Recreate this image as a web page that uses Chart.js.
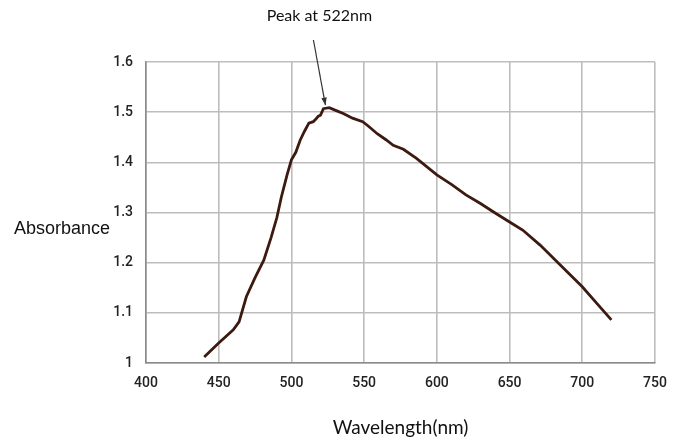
<!DOCTYPE html>
<html>
<head>
<meta charset="utf-8">
<script src="https://cdn.jsdelivr.net/npm/chart.js@4"></script>
<style>
  html, body { margin: 0; padding: 0; background: #fff; }
  #wrap { width: 680px; height: 443px; }
</style>
</head>
<body>
<div id="wrap"><canvas id="absChart" width="680" height="443"></canvas></div>
<script>
// Data ---------------------------------------------------------------------

const wavelength = [440, 450, 460, 464, 469, 475, 481, 486, 490, 493, 497, 500, 503, 506, 509,
  512, 515, 517, 518.5, 520, 522, 526, 530, 536, 542, 549, 553, 559, 565, 570, 577, 586,
  600, 610, 620, 630, 639, 650, 659, 671, 684, 700, 710, 720];
const absorbance = [1.012, 1.04, 1.066, 1.082, 1.132, 1.17, 1.205, 1.25, 1.29, 1.33, 1.375, 1.405,
  1.42, 1.444, 1.462, 1.478, 1.481, 1.487, 1.492, 1.494, 1.507, 1.509, 1.504, 1.497, 1.488,
  1.481, 1.472, 1.457, 1.445, 1.434, 1.426, 1.408, 1.375, 1.356, 1.335, 1.318, 1.301, 1.281,
  1.265, 1.235, 1.198, 1.152, 1.119, 1.086];

const xTicks = [400, 450, 500, 550, 600, 650, 700, 750];
const yTicks = [1, 1.1, 1.2, 1.3, 1.4, 1.5, 1.6];

const peakWavelength = 522;
const peakAbsorbance = 1.508;

// extra labels (y title drawn flat, peak note with arrow) -----------------

const notes = {
  id: 'notes',
  afterDraw(chart) {
    const ctx = chart.ctx;
    const x = chart.scales.x, y = chart.scales.y;
    ctx.save();

    ctx.fillStyle = '#111';
    ctx.font = '18px "Liberation Sans", Arial, sans-serif';
    ctx.textAlign = 'left';
    ctx.textBaseline = 'middle';
    ctx.fillText('Absorbance', 14, 229);

    // peak note
    const tipX = x.getPixelForValue(peakWavelength) + 2;
    const tipY = y.getPixelForValue(peakAbsorbance) - 3;
    const startX = tipX - 12, startY = 40;
    ctx.font = '16px Lato, "Open Sans", sans-serif';
    ctx.textAlign = 'center';
    ctx.fillText('Peak at ' + peakWavelength + 'nm', tipX - 6, 16);

    ctx.strokeStyle = '#333';
    ctx.lineWidth = 1.2;
    ctx.beginPath();
    ctx.moveTo(startX, startY);
    ctx.lineTo(tipX, tipY);
    ctx.stroke();
    const ang = Math.atan2(tipY - startY, tipX - startX);
    ctx.fillStyle = '#333';
    ctx.beginPath();
    ctx.moveTo(tipX, tipY);
    ctx.lineTo(tipX - 8 * Math.cos(ang - 0.35), tipY - 8 * Math.sin(ang - 0.35));
    ctx.lineTo(tipX - 8 * Math.cos(ang + 0.35), tipY - 8 * Math.sin(ang + 0.35));
    ctx.closePath();
    ctx.fill();
    ctx.restore();
  }
};

// chart ---------------------------------------------------------------------

const tickFont = { family: 'Roboto, "Liberation Sans", sans-serif', size: 14, weight: '500' };

const config = {
  type: 'scatter',
  data: {
    datasets: [{
      label: 'Absorbance',
      data: wavelength.map((w, i) => ({ x: w, y: absorbance[i] })),
      showLine: true,
      borderColor: '#3d1a10',
      borderWidth: 2.8,
      pointRadius: 0,
      tension: 0
    }]
  },
  options: {
    responsive: false,
    animation: false,
    layout: { padding: { top: 62, right: 25, bottom: 0, left: 0 } },
    plugins: {
      legend: { display: false },
      tooltip: { enabled: false }
    },
    scales: {
      x: {
        type: 'linear',
        min: 400,
        max: 750,
        afterBuildTicks: s => { s.ticks = xTicks.map(v => ({ value: v })); },
        afterFit: s => { s.height = 80; },
        ticks: { color: '#222', font: tickFont, padding: 12 },
        grid: { color: '#bdbdbd', lineWidth: 1.6, drawTicks: false },
        border: { color: '#8a8a8a', width: 1.6 },
        title: {
          display: true,
          text: 'Wavelength(nm)',
          color: '#111',
          font: { family: 'Lato, "Open Sans", sans-serif', size: 19 },
          padding: { top: 16 }
        }
      },
      y: {
        type: 'linear',
        min: 1,
        max: 1.6,
        afterBuildTicks: s => { s.ticks = yTicks.map(v => ({ value: v })); },
        afterFit: s => { s.width = 146; },
        ticks: {
          color: '#222',
          font: tickFont,
          padding: 13,
          callback: v => String(Number(v.toFixed(1)))
        },
        grid: { color: '#bdbdbd', lineWidth: 1.6, drawTicks: false },
        border: { color: '#8a8a8a', width: 1.6 }
      }
    }
  },
  plugins: [notes]
};

const absChart = new Chart(document.getElementById('absChart'), config);
</script>
</body>
</html>
